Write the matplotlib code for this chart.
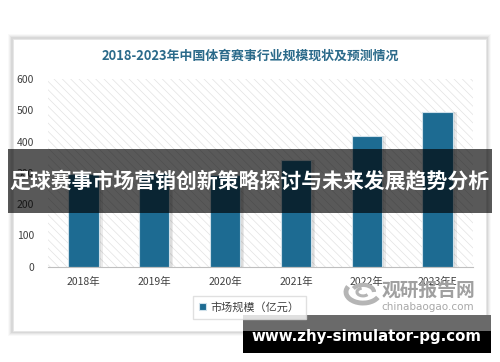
import matplotlib
matplotlib.use("Agg")
import matplotlib.pyplot as plt
from matplotlib.patches import Rectangle, Arc
import numpy as np

plt.rcParams['font.family'] = ['Noto Sans CJK SC', 'DejaVu Sans']
plt.rcParams['hatch.color'] = "#e2e2e2"
plt.rcParams['hatch.linewidth'] = 0.5

# ================= DATA =================
years = ["2018年", "2019年", "2020年", "2021年", "2022年", "2023年E"]
market_size = [296, 300, 292, 340, 418, 495]
y_ticks = [0, 100, 200, 300, 400, 500, 600]

title = "2018-2023年中国体育赛事行业规模现状及预测情况"
legend_label = "市场规模（亿元）"
banner = "足球赛事市场营销创新策略探讨与未来发展趋势分析"
site = "www.zhy-simulator-pg.com"

BAR = "#1d6b92"
W, H = 500, 362

fig = plt.figure(figsize=(5, 3.62), dpi=100)
fig.patch.set_facecolor("white")

def fx(x):
    return x / W

def fy(y):
    return 1 - y / H

# ================= CARD + SHADOW =================
for i, a in enumerate([0.025, 0.035, 0.045, 0.055]):
    d = 5 - i
    fig.patches.append(Rectangle((fx(13 - d), fy(331 + d)), fx(473 + 2 * d), (292 + 2 * d) / H,
                                 transform=fig.transFigure, facecolor="black", alpha=a,
                                 edgecolor="none", zorder=0))
fig.patches.append(Rectangle((fx(13), fy(331)), fx(473), 292 / H, transform=fig.transFigure,
                             facecolor="white", edgecolor="#e6e6e6", linewidth=0.6, zorder=1))

fig.text(0.5, fy(56), title, ha="center", va="center", fontsize=9.3,
         fontweight="bold", color="#2b6a8a", zorder=3)

# ================= AXES =================
ax = fig.add_axes([fx(48), fy(266.7), fx(425), 187.7 / H], zorder=2)
ax.set_facecolor("white")
ax.add_patch(Rectangle((0, 0), 1, 1, transform=ax.transAxes, facecolor="white",
                       edgecolor="#e2e2e2", hatch="\\\\\\\\", linewidth=0, zorder=0))

x = np.arange(len(years))
# shadow behind bars
ax.bar(x + 0.05, market_size, width=0.44, color="#000000", alpha=0.08, zorder=1)
ax.bar(x + 0.03, market_size, width=0.44, color="#000000", alpha=0.06, zorder=1)
ax.bar(x, market_size, width=0.43, color=BAR, edgecolor="#cfe0ea", linewidth=0.8,
       zorder=2, label=legend_label)

ax.set_xlim(-0.5, len(years) - 0.5)
ax.set_ylim(0, 600)
ax.set_yticks(y_ticks)
ax.set_yticklabels([str(v) for v in y_ticks], fontsize=7.5, color="#404040")
ax.set_xticks(x)
ax.set_xticklabels(years, fontsize=7.5, color="#404040")
ax.tick_params(axis="y", length=0, pad=10)
ax.tick_params(axis="x", length=0, pad=7)
for s in ["top", "right", "left"]:
    ax.spines[s].set_visible(False)
ax.spines["bottom"].set_color("#bfbfbf")
ax.spines["bottom"].set_linewidth(0.8)

leg = fig.legend(loc="center", bbox_to_anchor=(fx(249.5), fy(307.5)), fontsize=8,
                 frameon=True, fancybox=False, edgecolor="#d9d9d9", handlelength=0.6,
                 handleheight=0.6, handletextpad=0.4, borderpad=0.55)
for t in leg.get_texts():
    t.set_color("#404040")

# ================= WATERMARK =================
wm = fig.add_axes([0, 0, 1, 1], zorder=4)
wm.set_xlim(0, W)
wm.set_ylim(H, 0)
wm.axis("off")
for r, t1, t2, lw in [(17, 20, 200, 3.5), (11, 200, 360, 3), (6, 30, 250, 2.2)]:
    wm.add_patch(Arc((363, 292), 2 * r, 1.3 * r, theta1=t1, theta2=t2, color="#b5b5b5", lw=lw))
wm.text(428, 290, "观研报告网", ha="center", va="center", fontsize=13.5,
        fontweight="bold", color="#a0a0a0")
wm.text(428, 306.5, "chinabaogao.com", ha="center", va="center", fontsize=7.5,
        color="#a8a8a8", family="DejaVu Sans")

# ================= OVERLAYS =================
wm.add_patch(Rectangle((8, 149), 484, 63.5, facecolor="black", alpha=0.65,
                       edgecolor="none", zorder=5))
wm.text(249, 182, banner, ha="center", va="center", fontsize=15, fontweight="bold",
        color="white", zorder=6)

wm.add_patch(Rectangle((243, 315), 248, 16, facecolor="#6a6a6a", edgecolor="none", zorder=5))
wm.add_patch(Rectangle((243, 331), 248, 22, facecolor="black", edgecolor="none", zorder=5))
wm.text(366, 336.5, site, ha="center", va="center", fontsize=10.8, fontweight="bold",
        color="white", family="DejaVu Sans", zorder=6)

fig.savefig("out.png", dpi=100)
